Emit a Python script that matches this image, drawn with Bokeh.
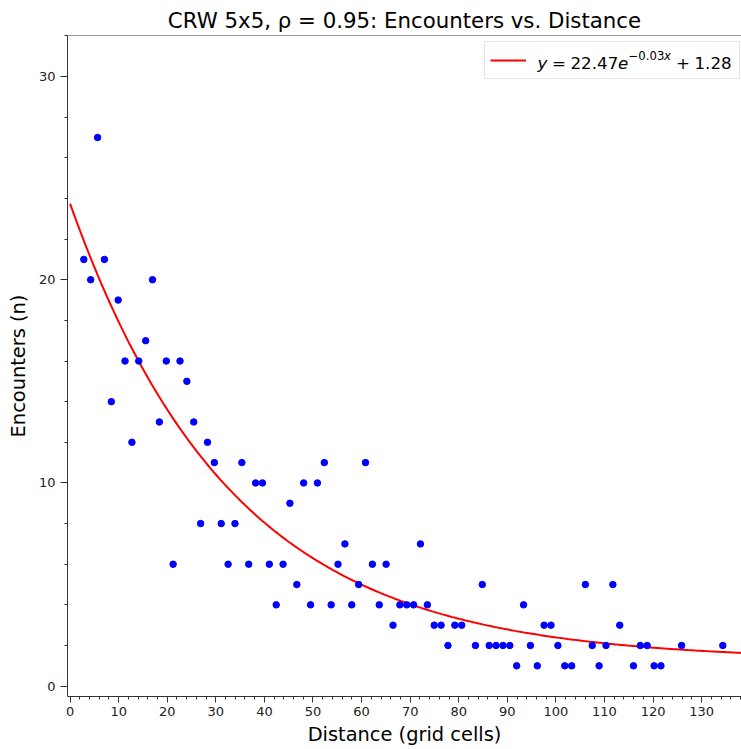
import numpy as np
from bokeh.plotting import figure
from bokeh.models import Range1d, FixedTicker, Legend, LegendItem, Label, Span
from bokeh.core.properties import value
from bokeh.embed import file_html
from bokeh.resources import INLINE

# ---- data ----
distance = [2.83, 4.24, 5.66, 7.07, 8.49, 9.90, 11.31, 12.73, 14.14, 15.56,
            16.97, 18.38, 19.80, 21.21, 22.63, 24.04, 25.46, 26.87, 28.28, 29.70,
            31.11, 32.53, 33.94, 35.36, 36.77, 38.18, 39.60, 41.01, 42.43, 43.84,
            45.25, 46.67, 48.08, 49.50, 50.91, 52.33, 53.74, 55.15, 56.57, 57.98,
            59.40, 60.81, 62.23, 63.64, 65.05, 66.47, 67.88, 69.30, 70.71, 72.12,
            73.54, 74.95, 76.37, 77.78, 79.20, 80.61, 83.44, 84.85, 86.27, 87.68,
            89.10, 90.51, 91.92, 93.34, 94.75, 96.17, 97.58, 98.99, 100.41, 101.82,
            103.24, 106.07, 107.48, 108.89, 110.31, 111.72, 113.14, 115.97, 117.38, 118.79,
            120.21, 121.62, 125.87, 134.35]
encounters = [21, 20, 27, 21, 14, 19, 16, 12, 16, 17,
              20, 13, 16, 6, 16, 15, 13, 8, 12, 11,
              8, 6, 8, 11, 6, 10, 10, 6, 4, 6,
              9, 5, 10, 4, 10, 11, 4, 6, 7, 4,
              5, 11, 6, 4, 6, 3, 4, 4, 4, 7,
              4, 3, 3, 2, 3, 3, 2, 5, 2, 2,
              2, 2, 1, 4, 2, 1, 3, 3, 2, 1,
              1, 5, 2, 1, 2, 5, 3, 1, 2, 2,
              1, 1, 2, 2]

# fitted model y = A * exp(-b x) + c (as given in the legend)
fit_A = 22.47
fit_b = 0.03
fit_c = 1.28

x_major_ticks = [0, 10, 20, 30, 40, 50, 60, 70, 80, 90, 100, 110, 120, 130]
y_major_ticks = [0, 10, 20, 30]

title_text = "CRW 5x5, \u03c1 = 0.95: Encounters vs. Distance"
x_label = "Distance (grid cells)"
y_label = "Encounters (n)"

FONT = "DejaVu Sans"
X0, X1 = -0.53, 138.2
Y0, Y1 = -0.51, 32.02
FL, FB = 67, 696  # frame left / bottom in page pixels

p = figure(width=741, height=749, output_backend="svg", toolbar_location=None,
           x_range=Range1d(X0, X1), y_range=Range1d(Y0, Y1),
           min_border_left=67, min_border_right=0, min_border_top=35,
           min_border_bottom=53, title=title_text)
p.grid.visible = False
p.outline_line_color = None
p.background_fill_color = "white"
p.border_fill_color = "white"

p.title.text_font = FONT
p.title.text_font_size = "21.3px"
p.title.text_font_style = "normal"
p.title.text_color = "black"
p.title.align = "center"
p.title.offset = 6
p.title.standoff = 5

for ax in (p.xaxis[0], p.yaxis[0]):
    ax.axis_line_color = "#333333"
    ax.axis_line_width = 1
    ax.major_tick_line_color = "#333333"
    ax.minor_tick_line_color = "#333333"
    ax.major_tick_out = 6
    ax.major_tick_in = 0
    ax.minor_tick_out = 3
    ax.minor_tick_in = 0
    ax.major_label_text_font = FONT
    ax.major_label_text_font_size = "13px"
    ax.major_label_text_color = "#222222"
    ax.axis_label_text_font = FONT
    ax.axis_label_text_font_size = "19.4px"
    ax.axis_label_text_font_style = "normal"
    ax.axis_label_text_color = "black"

p.xaxis.ticker = FixedTicker(ticks=x_major_ticks, minor_ticks=list(range(0, 140, 2)))
p.yaxis.ticker = FixedTicker(ticks=y_major_ticks, minor_ticks=list(range(0, 33, 2)))
p.yaxis.major_tick_out = 7
p.xaxis.axis_label = x_label
p.yaxis.axis_label = y_label
p.xaxis.major_label_standoff = 4
p.yaxis.major_label_standoff = 5
p.xaxis.axis_label_standoff = 4
p.yaxis.axis_label_standoff = 6

# top spine
p.add_layout(Span(location=Y1, dimension="width", line_color="#333333", line_width=1))

xf = np.linspace(0, 140, 400)
yf = fit_A * np.exp(-fit_b * xf) + fit_c
fit_r = p.line(xf, yf, line_color="#ff0000", line_width=2)
p.scatter(distance, encounters, size=6.5, fill_color="#0000ff", line_color="#0000ff")

legend = Legend(items=[LegendItem(label=value(" "), renderers=[fit_r])],
                location=(417, 616.7), padding=5, spacing=0, margin=0,
                glyph_width=36, glyph_height=26, label_standoff=13,
                label_width=195, label_height=26,
                border_line_color="#cccccc", border_line_width=1,
                background_fill_color="white", background_fill_alpha=0.0)
p.add_layout(legend)

# formula text pieces: (text, page-x, baseline page-y, size, style)
MAIN_Y, SUP_Y = 62, 55
pieces = [("y", 537, MAIN_Y, "16.7px", "italic"),
          ("=", 551.5, MAIN_Y, "16.7px", "normal"),
          ("22.47", 570, MAIN_Y, "16.7px", "normal"),
          ("e", 617.5, MAIN_Y, "16.7px", "italic"),
          ("\u22120.03", 628, SUP_Y, "11.7px", "normal"),
          ("x", 663.5, SUP_Y, "11.7px", "italic"),
          ("+", 675.5, MAIN_Y, "16.7px", "normal"),
          ("1.28", 694, MAIN_Y, "16.7px", "normal")]
for txt, px, py, fs, st in pieces:
    p.add_layout(Label(x=px - FL, y=FB - py, x_units="screen", y_units="screen",
                       text=txt, text_font=FONT, text_font_size=fs,
                       text_font_style=st, text_color="black",
                       text_align="left", text_baseline="alphabetic",
                       level="overlay"))

open("out.html", "w").write(file_html(p, INLINE))
